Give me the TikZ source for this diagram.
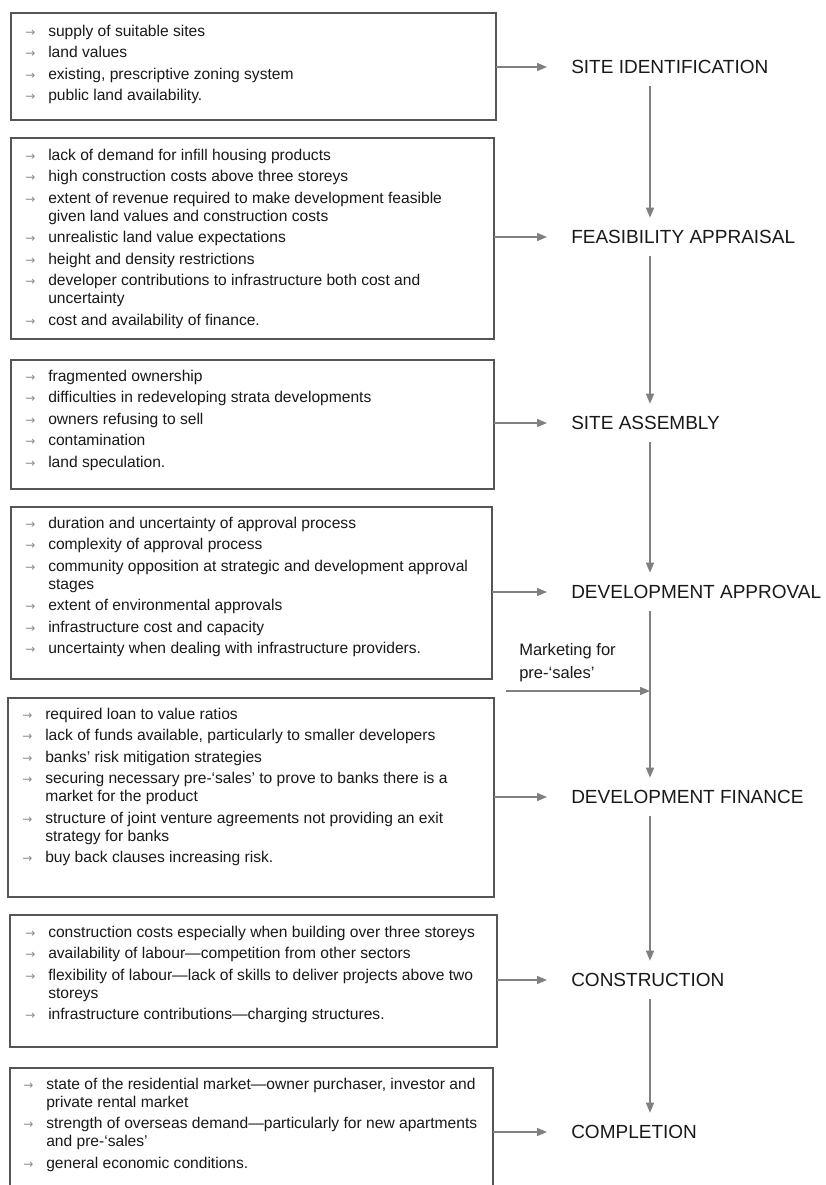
\documentclass[tikz,border=0pt]{standalone}
\usepackage{fontspec}
\setmainfont{Liberation Sans}
\newfontfamily\dejavu{DejaVu Sans}
\usetikzlibrary{arrows.meta}
\definecolor{linegray}{RGB}{128,128,128}
\definecolor{boxgray}{RGB}{85,85,85}
\definecolor{bulgray}{RGB}{140,140,140}
\definecolor{txt}{RGB}{25,25,25}
\newcommand{\bul}{\textcolor{bulgray}{\dejavu\fontsize{9pt}{9pt}\selectfont →}}
\newcommand{\bitem}[1]{\par\hangindent=17.25pt\hangafter=1\noindent\makebox[17.25pt][l]{\bul}#1\par}
\newcommand{\blist}[1]{\parbox[t]{360pt}{\fontsize{11.7pt}{13.5pt}\selectfont\setlength{\parskip}{2.6pt}\setlength{\parindent}{0pt}#1}}
\tikzset{
  box/.style={draw=boxgray, line width=0.9pt, rectangle, anchor=north west, inner sep=0pt, outer sep=0pt},
  lst/.style={anchor=base west, inner sep=0pt, text=txt},
  stage/.style={anchor=west, inner xsep=18pt, inner ysep=9.15pt, text height=10.2pt, text depth=0pt,
    font=\fontsize{14.25pt}{17pt}\selectfont, text=txt},
  conn/.style={draw=linegray, line width=1pt, -{Triangle[length=7.5pt,width=6pt]}},
  mk/.style={anchor=base west, inner sep=0pt, text=txt}
}
\begin{document}
\begin{tikzpicture}[x=0.75pt,y=-0.75pt]
\clip (0,0) rectangle (825,1185);
\fill[white] (0,0) rectangle (825,1185);
% boxes
\node[box, minimum width=363.75pt, minimum height=80.25pt] (b1) at (11,13) {};
\node[box, minimum width=362.25pt, minimum height=150.75pt] (b2) at (11,138) {};
\node[box, minimum width=362.25pt, minimum height=96.75pt] (b3) at (11,360) {};
\node[box, minimum width=360.75pt, minimum height=129pt] (b4) at (11,507) {};
\node[box, minimum width=364.5pt, minimum height=149.25pt] (b5) at (8,698) {};
\node[box, minimum width=365.25pt, minimum height=99pt] (b6) at (10,915) {};
\node[box, minimum width=362.25pt, minimum height=105pt] (b7) at (10,1068) {};
% lists
\node[lst] (t1) at (25,36.5) {\blist{%
\bitem{supply of suitable sites}
\bitem{land values}
\bitem{existing, prescriptive zoning system}
\bitem{public land availability.}}};
\node[lst] (t2) at (25,160.5) {\blist{%
\bitem{lack of demand for infill housing products}
\bitem{high construction costs above three storeys}
\bitem{extent of revenue required to make development feasible\newline given land values and construction costs}
\bitem{unrealistic land value expectations}
\bitem{height and density restrictions}
\bitem{developer contributions to infrastructure both cost and\newline uncertainty}
\bitem{cost and availability of finance.}}};
\node[lst] (t3) at (25,381.5) {\blist{%
\bitem{fragmented ownership}
\bitem{difficulties in redeveloping strata developments}
\bitem{owners refusing to sell}
\bitem{contamination}
\bitem{land speculation.}}};
\node[lst] (t4) at (25,528.5) {\blist{%
\bitem{duration and uncertainty of approval process}
\bitem{complexity of approval process}
\bitem{community opposition at strategic and development approval\newline stages}
\bitem{extent of environmental approvals}
\bitem{infrastructure cost and capacity}
\bitem{uncertainty when dealing with infrastructure providers.}}};
\node[lst] (t5) at (22,719.5) {\blist{%
\bitem{required loan to value ratios}
\bitem{lack of funds available, particularly to smaller developers}
\bitem{banks’ risk mitigation strategies}
\bitem{securing necessary pre-‘sales’ to prove to banks there is a\newline market for the product}
\bitem{structure of joint venture agreements not providing an exit\newline strategy for banks}
\bitem{buy back clauses increasing risk.}}};
\node[lst] (t6) at (25,937.5) {\blist{%
\bitem{construction costs especially when building over three storeys}
\bitem{availability of labour—competition from other sectors}
\bitem{flexibility of labour—lack of skills to deliver projects above two\newline storeys}
\bitem{infrastructure contributions—charging structures.}}};
\node[lst] (t7) at (23,1089.5) {\blist{%
\bitem{state of the residential market—owner purchaser, investor and\newline private rental market}
\bitem{strength of overseas demand—particularly for new apartments\newline and pre-‘sales’}
\bitem{general economic conditions.}}};
% stages
\node[stage] (s1) at (547,67) {SITE IDENTIFICATION};
\node[stage] (s2) at (547,237) {FEASIBILITY APPRAISAL};
\node[stage] (s3) at (547,423) {SITE ASSEMBLY};
\node[stage] (s4) at (547,592) {DEVELOPMENT APPROVAL};
\node[stage] (s5) at (547,797) {DEVELOPMENT FINANCE};
\node[stage] (s6) at (547,980) {CONSTRUCTION};
\node[stage] (s7) at (547,1132) {COMPLETION};
% box to stage arrows
\foreach \i in {1,...,7} {
  \draw[conn] (b\i.east |- s\i.west) -- (s\i.west);
}
% spine
\coordinate (spine) at (650,0);
\foreach \i/\j in {1/2,2/3,3/4,4/5,5/6,6/7} {
  \draw[conn] (s\i.south -| spine) -- (s\j.north -| spine);
}
% marketing
\node[mk] (mkt) at (519,655.5) {\parbox[t]{120pt}{\fontsize{12.4pt}{17.25pt}\selectfont Marketing for\newline pre-‘sales’}};
\coordinate (mkstart) at (506,691);
\coordinate (mkend) at (650,691);
\draw[conn] (mkstart) -- (mkend);
\end{tikzpicture}
\end{document}
